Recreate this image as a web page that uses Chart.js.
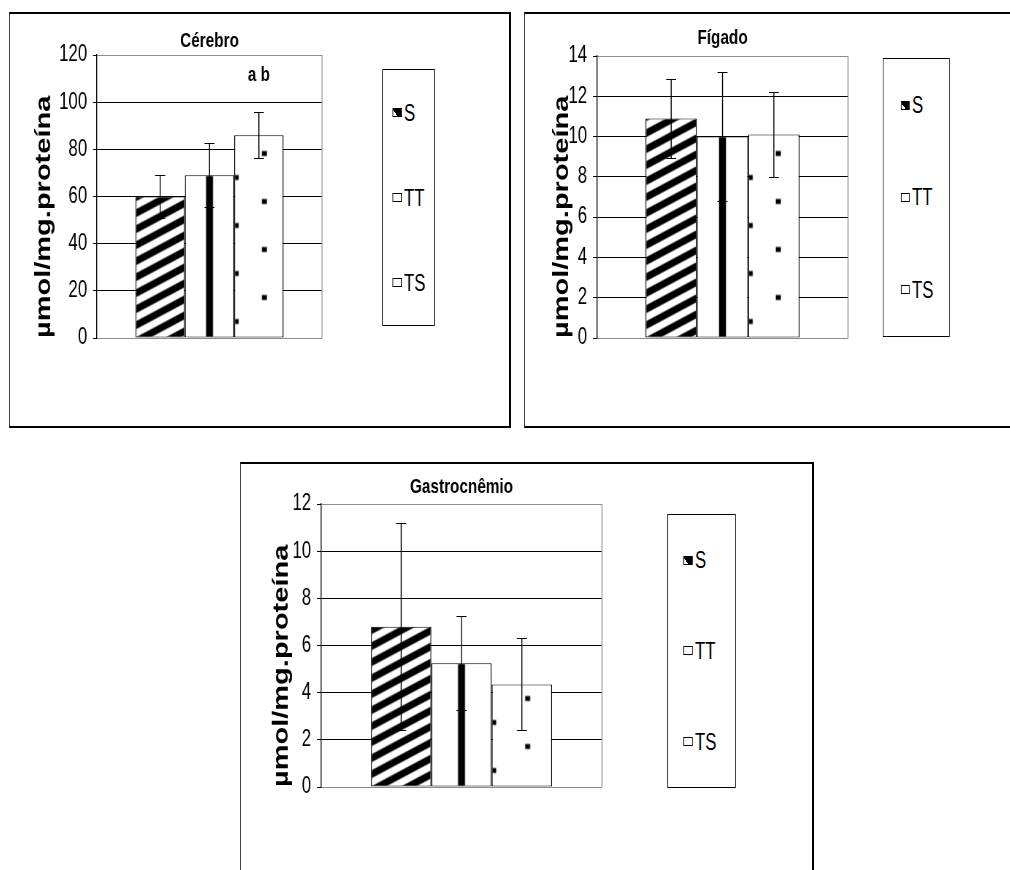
<!DOCTYPE html>
<html lang="pt">
<head>
<meta charset="UTF-8">
<title>Cérebro, Fígado, Gastrocnêmio</title>
<script src="https://cdn.jsdelivr.net/npm/chart.js"></script>
<style>
  html, body { margin: 0; padding: 0; background: #fff; }
  body { width: 1010px; height: 870px; overflow: hidden; position: relative;
         font-family: 'Liberation Sans', Arial, sans-serif; }
  .panel { position: absolute; box-sizing: border-box; border: 2px solid #000;
           border-left: 1px solid #444; background: #fff; }
  .squish { position: absolute; left: 0; top: 0; transform-origin: 0 0; }
  .squish canvas { position: absolute; left: 0; top: 0; }
  .legend { position: absolute; box-sizing: border-box; border: 1px solid #000;
            border-left-width: 1.4px; border-right-width: 1.4px; background: #fff;
            display: flex; flex-direction: column; justify-content: space-around; }
  .legend-item { display: flex; align-items: center; font-size: 23px; line-height: 26px; color: #000; }
  .swatch { display: inline-block; box-sizing: border-box; height: 9px; border: 1.4px solid #000;
            border-top-width: 1px; border-bottom-width: 1px; margin-right: 3px; background: #fff; }
</style>
</head>
<body>
<div id="cerebro" class="panel"></div>
<div id="figado" class="panel"></div>
<div id="gastro" class="panel"></div>

<script>
// series (groups)
const seriesNames = ['S', 'TT', 'TS'];

// Cérebro
const cerebroMeans = [60, 69, 86];
const cerebroErrors = [9, 13.5, 9.7];
const cerebroLetters = ['', '', 'a b'];

// Fígado
const figadoMeans = [10.9, 10.0, 10.1];
const figadoErrors = [1.95, 3.2, 2.1];
const figadoLetters = ['', '', ''];

// Gastrocnêmio
const gastroMeans = [6.8, 5.25, 4.35];
const gastroErrors = [4.4, 2.0, 1.95];
const gastroLetters = ['', '', ''];

const yUnit = 'µmol/mg.proteína';

// the original figure is horizontally compressed; draw wide and squeeze
const SX = 0.73;
const FONT = "'Liberation Sans', Arial, sans-serif";
Chart.defaults.font.family = FONT;
Chart.defaults.color = '#000';

const panels = [
    { id: 'cerebro', title: 'Cérebro', means: cerebroMeans, errors: cerebroErrors, letters: cerebroLetters,
      yMax: 120, yStep: 20,
      box: { x: 9, y: 12, w: 502, h: 416 }, plot: { l: 97, t: 55, r: 322, b: 338 },
      titleY: 41, axisTitleX: 44, barsWidth: 148, dotTile: 56,
      legend: { l: 382, t: 69, r: 435, b: 326, sx: 11 } },
    { id: 'figado', title: 'Fígado', means: figadoMeans, errors: figadoErrors, letters: figadoLetters,
      yMax: 14, yStep: 2,
      box: { x: 524, y: 12, w: 500, h: 416 }, plot: { l: 597, t: 56, r: 848, b: 338 },
      titleY: 38, axisTitleX: 562, barsWidth: 154, dotTile: 56,
      legend: { l: 883, t: 58, r: 950, b: 337, sx: 18 } },
    { id: 'gastro', title: 'Gastrocnêmio', means: gastroMeans, errors: gastroErrors, letters: gastroLetters,
      yMax: 12, yStep: 2,
      box: { x: 240, y: 462, w: 574, h: 420 }, plot: { l: 321, t: 504, r: 602, b: 787 },
      titleY: 487, axisTitleX: 282, barsWidth: 181, dotTile: 68,
      legend: { l: 667, t: 514, r: 736, b: 788, sx: 17 } }
];

// fill patterns, drawn in page units and stretched to the wide canvas
function makeTile(wPage, hPage, draw) {
    const c = document.createElement('canvas');
    c.width = Math.round(wPage / SX);
    c.height = hPage;
    const g = c.getContext('2d');
    g.scale(c.width / wPage, 1);
    g.fillStyle = '#fff';
    g.fillRect(0, 0, wPage, hPage);
    g.fillStyle = '#000';
    draw(g, wPage, hPage);
    const pat = g.createPattern(c, 'repeat');
    pat.tileW = c.width;
    return pat;
}

function stripesPattern() {
    return makeTile(30, 16, (g, w, h) => {
        for (let k = -1; k <= 1; k++) {
            g.beginPath();
            g.moveTo(0, h * k + h);
            g.lineTo(w, h * k);
            g.lineTo(w, h * k + h / 2);
            g.lineTo(0, h * k + 1.5 * h);
            g.closePath();
            g.fill();
        }
    });
}
function verticalPattern() {
    return makeTile(58, 16, (g, w, h) => g.fillRect(25.5, 0, 7, h));
}
function dotsPattern(w) {
    return makeTile(w, 48, g => {
        g.fillRect(0, 29.5, 4.5, 5);
        g.fillRect(w / 2 - 0.5, 5.5, 5, 5);
    });
}

// keeps each pattern anchored to its own bar
const anchorPatterns = {
    id: 'anchorPatterns',
    beforeDatasetsDraw(chart) {
        chart.data.datasets.forEach((ds, i) => {
            const bar = chart.getDatasetMeta(i).data[0];
            const pat = ds.backgroundColor;
            if (!bar || !pat || !pat.setTransform) return;
            const left = bar.x - bar.width / 2;
            let tx = left;
            if (ds.patternKind === 'vertical') tx = bar.x - pat.tileW / 2;
            pat.setTransform(new DOMMatrix([1, 0, 0, 1, tx, bar.base]));
        });
    }
};

// gray frame on the right side of the plot area
const plotFrame = {
    id: 'plotFrame',
    beforeDatasetsDraw(chart) {
        const { ctx, chartArea: a } = chart;
        ctx.save();
        ctx.strokeStyle = '#8c8c8c';
        ctx.lineWidth = 1 / SX;
        ctx.beginPath();
        ctx.moveTo(a.right, a.top);
        ctx.lineTo(a.right, a.bottom);
        ctx.stroke();
        ctx.restore();
    }
};

// error bars and significance letters
const errorBars = {
    id: 'errorBars',
    afterDatasetsDraw(chart) {
        const { ctx } = chart;
        const y = chart.scales.y;
        const cap = 5 / SX;
        ctx.save();
        ctx.strokeStyle = '#000';
        chart.data.datasets.forEach((ds, i) => {
            const bar = chart.getDatasetMeta(i).data[0];
            const v = ds.data[0], e = ds.errorBar;
            const yTop = Math.round(y.getPixelForValue(v + e)) + 0.5;
            const yBot = Math.round(y.getPixelForValue(v - e)) + 0.5;
            ctx.lineWidth = 1 / SX;
            ctx.beginPath();
            ctx.moveTo(bar.x, yTop);
            ctx.lineTo(bar.x, yBot);
            ctx.stroke();
            ctx.lineWidth = 1;
            ctx.beginPath();
            ctx.moveTo(bar.x - cap, yTop);
            ctx.lineTo(bar.x + cap, yTop);
            ctx.moveTo(bar.x - cap, yBot);
            ctx.lineTo(bar.x + cap, yBot);
            ctx.stroke();
            if (ds.letter) {
                ctx.fillStyle = '#000';
                ctx.font = 'bold 21px ' + FONT;
                ctx.textAlign = 'center';
                ctx.textBaseline = 'middle';
                ctx.fillText(ds.letter, bar.x, yTop - 37);
            }
        });
        ctx.restore();
    }
};

const swatchBg = {
    S: 'linear-gradient(45deg, #fff 32%, #000 32%)',
    TT: '#fff',
    TS: '#fff'
};

panels.forEach(p => {
    const panel = document.getElementById(p.id);
    Object.assign(panel.style, {
        left: p.box.x + 'px', top: p.box.y + 'px',
        width: p.box.w + 'px', height: p.box.h + 'px'
    });
    const ox = p.box.x + 1, oy = p.box.y + 2;
    const lx = x => (x - ox) / SX;
    const ly = y => y - oy;
    const W = Math.round((p.box.w - 3) / SX);
    const H = p.box.h - 4;

    const wrap = document.createElement('div');
    wrap.className = 'squish';
    wrap.style.width = W + 'px';
    wrap.style.height = H + 'px';
    wrap.style.transform = `scaleX(${SX})`;
    panel.appendChild(wrap);

    const canvas = document.createElement('canvas');
    canvas.width = W;
    canvas.height = H;
    canvas.style.width = W + 'px';
    canvas.style.height = H + 'px';
    wrap.appendChild(canvas);

    const patterns = [stripesPattern(), verticalPattern(), dotsPattern(p.dotTile)];
    const kinds = ['stripes', 'vertical', 'dots'];

    const titleSize = 21;
    const titleLineH = titleSize * 1.2;
    const titleTop = ly(p.titleY) - titleLineH / 2;
    const titleBottom = Math.max(0, ly(p.plot.t) - titleTop - titleLineH);
    const axisLineH = 29 * 1.2;

    new Chart(canvas, {
        type: 'bar',
        data: {
            labels: [''],
            datasets: seriesNames.map((name, i) => ({
                label: name,
                data: [p.means[i]],
                errorBar: p.errors[i],
                letter: p.letters[i],
                patternKind: kinds[i],
                backgroundColor: patterns[i],
                borderColor: '#000',
                borderWidth: { left: 1 / SX, right: 1 / SX, top: 1, bottom: 1 },
                borderSkipped: false
            }))
        },
        options: {
            responsive: false,
            animation: false,
            events: [],
            layout: {
                padding: {
                    left: 0, top: 0,
                    right: W - lx(p.plot.r),
                    bottom: H - ly(p.plot.b)
                }
            },
            datasets: {
                bar: {
                    categoryPercentage: p.barsWidth / (p.plot.r - p.plot.l),
                    barPercentage: 1
                }
            },
            plugins: {
                legend: { display: false },
                tooltip: { enabled: false },
                title: {
                    display: true,
                    text: p.title,
                    fullSize: false,
                    color: '#000',
                    font: { size: titleSize, weight: 'bold' },
                    padding: { top: titleTop, bottom: titleBottom }
                }
            },
            scales: {
                x: { display: false },
                y: {
                    min: 0,
                    max: p.yMax,
                    ticks: { stepSize: p.yStep, color: '#000', font: { size: 23 }, padding: 8 },
                    grid: {
                        color: c => (c.tick && (c.tick.value === 0 || c.tick.value === p.yMax)) ? '#8c8c8c' : '#000',
                        lineWidth: 1,
                        drawTicks: true,
                        tickLength: 5.5,
                        tickColor: '#000'
                    },
                    border: { display: true, color: '#000', width: 1 / SX },
                    title: {
                        display: true,
                        text: yUnit,
                        align: 'start',
                        color: '#000',
                        font: { size: 29, weight: 'bold' },
                        padding: { top: lx(p.axisTitleX) - axisLineH / 2, bottom: 0 }
                    },
                    afterFit: s => { s.width = lx(p.plot.l); }
                }
            }
        },
        plugins: [anchorPatterns, plotFrame, errorBars]
    });

    // legend box
    const lg = document.createElement('div');
    lg.className = 'legend';
    Object.assign(lg.style, {
        left: lx(p.legend.l) + 'px',
        top: ly(p.legend.t) + 'px',
        width: (p.legend.r - p.legend.l) / SX + 'px',
        height: (p.legend.b - p.legend.t) + 'px',
        paddingLeft: (p.legend.sx - 1) / SX + 'px'
    });
    seriesNames.forEach(name => {
        const item = document.createElement('div');
        item.className = 'legend-item';
        const sw = document.createElement('span');
        sw.className = 'swatch';
        sw.style.width = 9 / SX + 'px';
        sw.style.background = swatchBg[name];
        item.appendChild(sw);
        item.appendChild(document.createTextNode(name));
        lg.appendChild(item);
    });
    wrap.appendChild(lg);
});
</script>
</body>
</html>
